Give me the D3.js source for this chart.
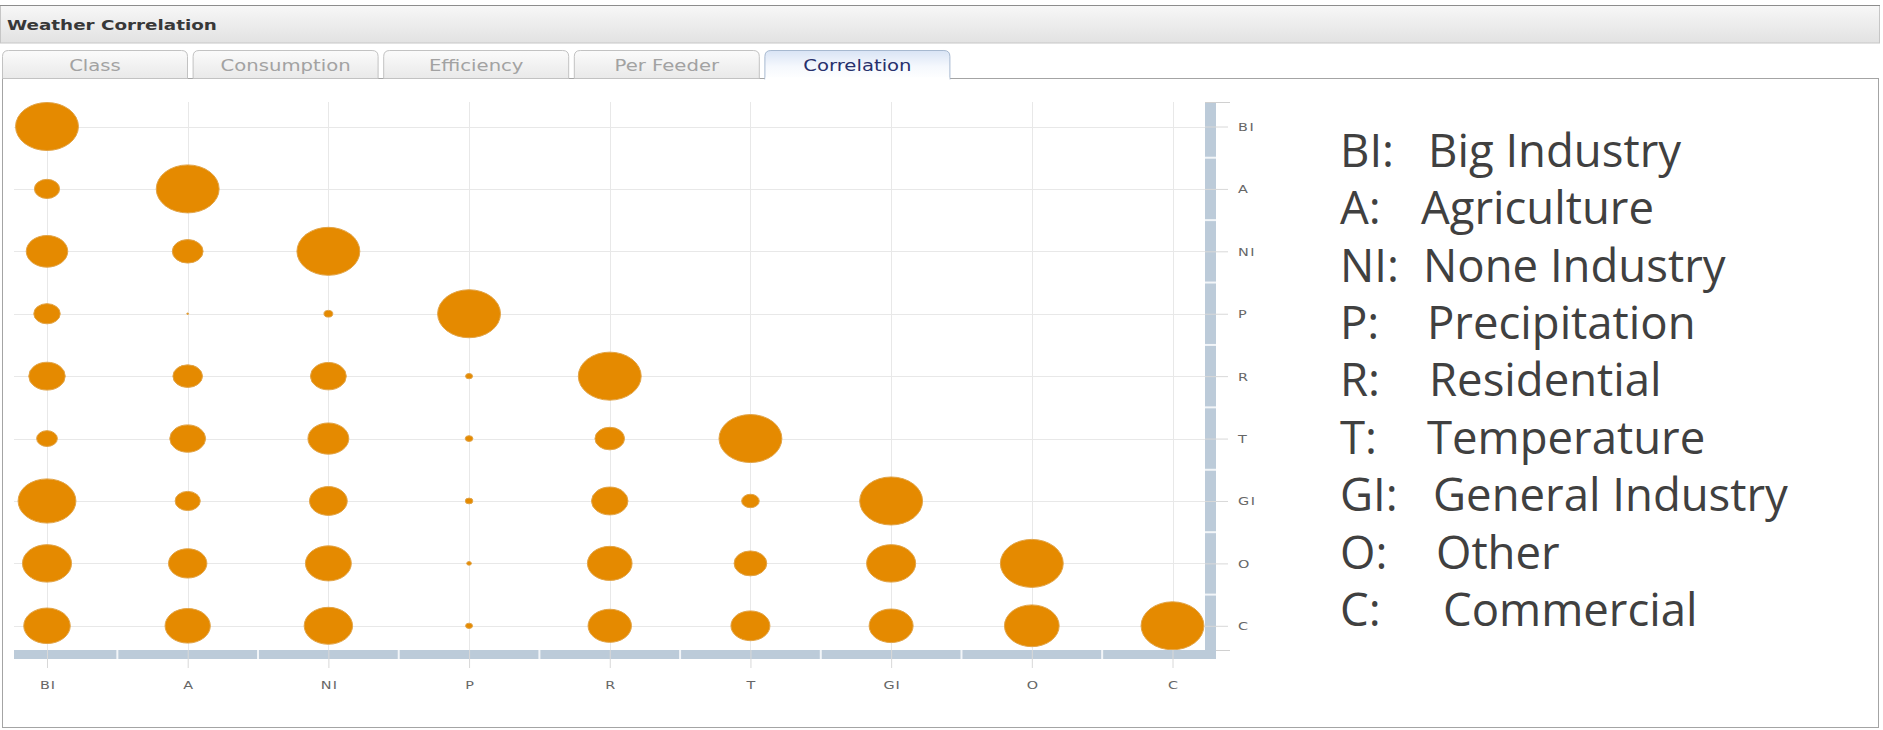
<!DOCTYPE html>
<html><head><meta charset="utf-8">
<script src="https://cdn.jsdelivr.net/npm/d3@7"></script>
<style>html,body{margin:0;padding:0;background:#fff;overflow:hidden}</style>
</head><body>
<svg id="c" width="1883" height="730"></svg>
<script>
// ---------- data ----------
const title = "Weather Correlation";
const tabs = ["Class", "Consumption", "Efficiency", "Per Feeder", "Correlation"];
const activeTab = "Correlation";
const categories = ["BI", "A", "NI", "P", "R", "T", "GI", "O", "C"];
const legendCodes = ["BI", "A", "NI", "P", "R", "T", "GI", "O", "C"];
const legendNames = ["Big Industry", "Agriculture", "None Industry", "Precipitation",
  "Residential", "Temperature", "General Industry", "Other", "Commercial"];
// correlation strength, row = y category, values for columns BI..(diagonal)
const rowBI = [1.00];
const rowA  = [0.40, 1.00];
const rowNI = [0.66, 0.49, 1.00];
const rowP  = [0.42, 0.03, 0.14, 1.00];
const rowR  = [0.58, 0.47, 0.57, 0.11, 1.00];
const rowT  = [0.33, 0.57, 0.65, 0.12, 0.47, 1.00];
const rowGI = [0.92, 0.40, 0.60, 0.12, 0.58, 0.28, 1.00];
const rowO  = [0.78, 0.61, 0.73, 0.075, 0.71, 0.52, 0.78, 1.00];
const rowC  = [0.74, 0.72, 0.77, 0.11, 0.69, 0.62, 0.70, 0.87, 1.00];
const rows = [rowBI, rowA, rowNI, rowP, rowR, rowT, rowGI, rowO, rowC];

// ---------- layout ----------
const SX = 1.31; // horizontal stretch of the screenshot
const svg = d3.select("#c");
const defs = svg.append("defs");
function grad(id, stops) {
  const g = defs.append("linearGradient").attr("id", id)
    .attr("x1", 0).attr("y1", 0).attr("x2", 0).attr("y2", 1);
  stops.forEach(s => g.append("stop").attr("offset", s[0]).attr("stop-color", s[1]));
}
grad("titleGrad", [["0%", "#f7f7f7"], ["100%", "#e2e2e2"]]);
grad("tabGrad", [["0%", "#fbfbfb"], ["100%", "#e9e9e9"]]);
grad("activeGrad", [["0%", "#d9e4f5"], ["55%", "#f5f8fd"], ["100%", "#ffffff"]]);

function stext(parent, x, y, str) {
  return parent.append("text")
    .attr("transform", `translate(${x},${y}) scale(${SX},1)`)
    .text(str);
}

// title bar
svg.append("rect").attr("x", 0.5).attr("y", 5.5).attr("width", 1879).attr("height", 37.5)
  .attr("fill", "url(#titleGrad)").attr("stroke", "#c6c6c6");
svg.append("line").attr("x1", 0).attr("x2", 1880).attr("y1", 5.5).attr("y2", 5.5)
  .attr("stroke", "#8c8c8c");
stext(svg, 7, 29.5, title)
  .attr("font-family", "DejaVu Sans").attr("font-weight", "bold")
  .attr("font-size", 14).attr("fill", "#383838");

// content panel
svg.append("rect").attr("x", 2.5).attr("y", 78.5).attr("width", 1876).attr("height", 649)
  .attr("fill", "#fff").attr("stroke", "#a4a4a4");

// tabs
const tabX0 = 2.5, tabW = 185, tabPitch = 190.6, tabTop = 50.5, tabBot = 78.5;
tabs.forEach((t, i) => {
  const x0 = tabX0 + i * tabPitch, x1 = x0 + tabW, act = t === activeTab;
  const bot = act ? tabBot + 1 : tabBot;
  const p = `M${x0},${bot} L${x0},${tabTop + 6} Q${x0},${tabTop} ${x0 + 6},${tabTop} ` +
            `L${x1 - 6},${tabTop} Q${x1},${tabTop} ${x1},${tabTop + 6} L${x1},${bot}`;
  svg.append("path").attr("d", p + (act ? "" : " Z"))
    .attr("fill", act ? "url(#activeGrad)" : "url(#tabGrad)")
    .attr("stroke", act ? "#a7b9d0" : "#c2c2c2");
  if (act) {
    svg.append("rect").attr("x", x0 + 0.5).attr("y", tabBot - 1).attr("width", tabW - 1).attr("height", 2.5)
      .attr("fill", "#fff");
  }
  stext(svg, x0 + tabW / 2, 71, t)
    .attr("text-anchor", "middle").attr("font-family", "DejaVu Sans")
    .attr("font-size", 15).attr("fill", act ? "#27306c" : "#a2a2a2");
});

// ---------- chart ----------
const plot = { left: 14, right: 1205, top: 102, bottom: 650, bar: 9, barV: 11 };
const x = d3.scalePoint().domain(categories).range([47, 1172.5]);
const y = d3.scalePoint().domain(categories).range([126.5, 625.8]);
const r = d3.scaleLinear().domain([0, 1]).range([0, 24]);

const grid = svg.append("g").attr("stroke", "#e8e8e8").attr("stroke-width", 1);
grid.selectAll(".v").data(categories).join("line")
  .attr("x1", d => Math.round(x(d)) + 0.5).attr("x2", d => Math.round(x(d)) + 0.5)
  .attr("y1", plot.top).attr("y2", plot.bottom);
grid.selectAll(".h").data(categories).join("line")
  .attr("y1", d => Math.round(y(d)) + 0.5).attr("y2", d => Math.round(y(d)) + 0.5)
  .attr("x1", plot.left).attr("x2", plot.right);

const cells = [];
rows.forEach((vals, i) => vals.forEach((v, j) => cells.push({ row: categories[i], col: categories[j], v })));

svg.append("g").selectAll("ellipse").data(cells).join("ellipse")
  .attr("cx", d => x(d.col)).attr("cy", d => y(d.row))
  .attr("rx", d => r(d.v) * SX).attr("ry", d => r(d.v))
  .attr("fill", "#e58a00").attr("stroke", "#e2a447").attr("stroke-width", 1);

// axis bars
const barCol = "#bccbd9";
svg.append("rect").attr("x", plot.left).attr("y", plot.bottom)
  .attr("width", plot.right + plot.barV - plot.left).attr("height", plot.bar).attr("fill", barCol);
svg.append("rect").attr("x", plot.right).attr("y", plot.top)
  .attr("width", plot.barV).attr("height", plot.bottom + plot.bar - plot.top).attr("fill", barCol);
const mids = d3.pairs(categories);
svg.append("g").selectAll("line").data(mids).join("line")
  .attr("x1", d => (x(d[0]) + x(d[1])) / 2).attr("x2", d => (x(d[0]) + x(d[1])) / 2)
  .attr("y1", plot.bottom).attr("y2", plot.bottom + plot.bar)
  .attr("stroke", "#f2f5f8").attr("stroke-width", 2);
svg.append("g").selectAll("line").data(mids).join("line")
  .attr("y1", d => (y(d[0]) + y(d[1])) / 2).attr("y2", d => (y(d[0]) + y(d[1])) / 2)
  .attr("x1", plot.right).attr("x2", plot.right + plot.barV)
  .attr("stroke", "#f2f5f8").attr("stroke-width", 2);

// axes
const xAxis = d3.axisBottom(x).tickSize(18).tickSizeOuter(0).tickPadding(13);
const gx = svg.append("g").attr("transform", `translate(0,${plot.bottom})`).call(xAxis);
gx.select(".domain").remove();
gx.selectAll("line").attr("stroke", "#d8d8d8");
gx.selectAll("text").attr("font-family", "DejaVu Sans").attr("font-size", 11)
  .attr("letter-spacing", 0.8).attr("dx", 0.4)
  .attr("fill", "#666").attr("transform", `scale(${SX},1)`);

const yPad = 10, yTick = 23;
const yAxis = d3.axisRight(y).tickSize(yTick).tickSizeOuter(0).tickPadding(yPad);
const gy = svg.append("g").attr("transform", `translate(${plot.right},0)`).call(yAxis);
gy.select(".domain").remove();
gy.selectAll("line").attr("stroke", "#d8d8d8");
gy.selectAll("text").attr("font-family", "DejaVu Sans").attr("font-size", 11)
  .attr("letter-spacing", 1.2)
  .attr("fill", "#666").attr("x", (yTick + yPad) / SX).attr("dy", "0.36em")
  .attr("transform", `scale(${SX},1)`);
// end ticks of the right axis
svg.append("line").attr("x1", plot.right).attr("x2", plot.right + 25)
  .attr("y1", plot.top + 0.5).attr("y2", plot.top + 0.5).attr("stroke", "#d0d0d0");
svg.append("line").attr("x1", plot.right + plot.barV).attr("x2", plot.right + 25)
  .attr("y1", plot.bottom + 0.5).attr("y2", plot.bottom + 0.5).attr("stroke", "#d0d0d0");

// ---------- legend ----------
const legX = 1340, legY0 = 166.7, legDy = 57.4;
const legNameX = [1428, 1421, 1423, 1427, 1429, 1427, 1433, 1436, 1443];
const leg = svg.append("g").attr("font-family", "'Open Sans', 'Noto Sans', sans-serif")
  .attr("font-size", 45.5).attr("fill", "#404040");
legendCodes.forEach((c, i) => {
  const t = leg.append("text").attr("y", legY0 + i * legDy);
  t.append("tspan").attr("x", legX).text(c + ":");
  t.append("tspan").attr("x", legNameX[i]).text(legendNames[i]);
});
</script>
</body></html>
